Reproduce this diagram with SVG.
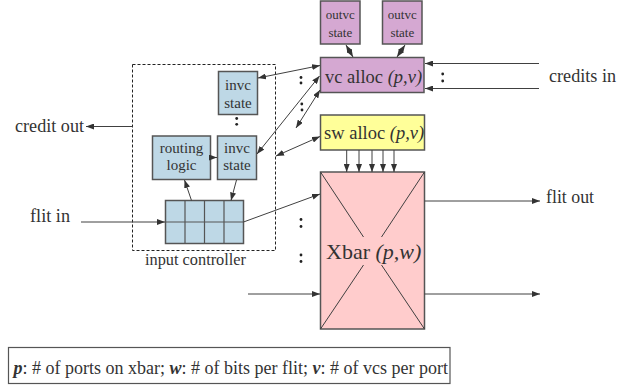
<svg xmlns="http://www.w3.org/2000/svg" width="635" height="390" viewBox="0 0 635 390">
<defs>
<marker id="ah" viewBox="0 0 8 6" refX="8" refY="3" markerWidth="8" markerHeight="6" orient="auto-start-reverse" markerUnits="userSpaceOnUse">
<path d="M0,0 L8,3 L0,6 z" fill="#333"/>
</marker>
<style>
.box{stroke:#555;stroke-width:1.5}
.blue{fill:#bed8e6}
.purple{fill:#d5a8d2}
.yellow{fill:#ffff99}
.pink{fill:#ffcccc}
.t{font-family:"Liberation Serif","Times New Roman",serif;fill:#333}
.m{text-anchor:middle}
.i{font-style:italic}
.bi{font-style:italic;font-weight:bold}
.c{stroke:#404040;stroke-width:1;fill:none}
.a{marker-end:url(#ah)}
.d{marker-start:url(#ah);marker-end:url(#ah)}
.dot{fill:#222}
</style>
</defs>
<rect width="635" height="390" fill="#fff"/>

<g id="input-controller">
<rect x="132.5" y="64.5" width="143" height="186" fill="none" stroke="#222" stroke-width="1" stroke-dasharray="3,2"/>
<text class="t" x="145" y="265" font-size="16" textLength="101" lengthAdjust="spacingAndGlyphs">input controller</text>
</g>

<g id="outvc-state-1">
<rect class="box purple" x="320.5" y="1" width="39.5" height="43"/>
<text class="t m" x="340.3" y="18.5" font-size="13">outvc</text>
<text class="t m" x="340.3" y="37" font-size="13">state</text>
</g>
<g id="outvc-state-2">
<rect class="box purple" x="382.5" y="1" width="39.5" height="43"/>
<text class="t m" x="402.3" y="18.5" font-size="13">outvc</text>
<text class="t m" x="402.3" y="37" font-size="13">state</text>
</g>

<g id="vc-alloc">
<rect class="box purple" x="320.5" y="57.5" width="103.5" height="35"/>
<text class="t" x="325" y="82.5" font-size="18.5">vc alloc <tspan class="i">(p,v)</tspan></text>
</g>

<g id="sw-alloc">
<rect class="box yellow" x="320.5" y="115" width="104" height="35"/>
<text class="t" x="324" y="139" font-size="18.5">sw alloc <tspan class="i">(p,v)</tspan></text>
</g>

<g id="xbar">
<rect class="box pink" x="320.5" y="172" width="104" height="157"/>
<path class="c" d="M320.5,172 L363.5,237 M424.5,172 L381.5,237 M320.5,329 L363.5,265 M424.5,329 L381.5,265"/>
<text class="t" x="326" y="258.5" font-size="22">Xbar <tspan class="i">(p,w)</tspan></text>
</g>

<g id="invc-state-top">
<rect class="box blue" x="218.5" y="71.5" width="39" height="43"/>
<text class="t m" x="238" y="90" font-size="15">invc</text>
<text class="t m" x="238" y="108" font-size="15">state</text>
</g>

<g id="routing-logic">
<rect class="box blue" x="152.5" y="136" width="58" height="43.5"/>
<text class="t m" x="181.5" y="153" font-size="15">routing</text>
<text class="t m" x="181.5" y="170" font-size="15">logic</text>
</g>

<g id="invc-state-bottom">
<rect class="box blue" x="217.5" y="136" width="39" height="43.5"/>
<text class="t m" x="237" y="153" font-size="15">invc</text>
<text class="t m" x="237" y="170" font-size="15">state</text>
</g>

<g id="buffer">
<rect class="box blue" x="165.5" y="200.5" width="78" height="43"/>
<path d="M185,200.5 V243.5 M204.5,200.5 V243.5 M224,200.5 V243.5 M165.5,222 H243.5" stroke="#555" stroke-width="1.2" fill="none"/>
</g>

<g id="labels">
<text class="t" x="549" y="82" font-size="19" textLength="67" lengthAdjust="spacingAndGlyphs">credits in</text>
<text class="t" x="15" y="132" font-size="19" textLength="69" lengthAdjust="spacingAndGlyphs">credit out</text>
<text class="t" x="30" y="222" font-size="19" textLength="40" lengthAdjust="spacingAndGlyphs">flit in</text>
<text class="t" x="546" y="203" font-size="19" textLength="48" lengthAdjust="spacingAndGlyphs">flit out</text>
</g>

<g id="connectors">
<line class="c d" x1="346" y1="45" x2="353" y2="57"/>
<line class="c d" x1="405" y1="45" x2="397" y2="57"/>
<line class="c a" x1="539" y1="63.5" x2="425" y2="63.5"/>
<line class="c a" x1="539" y1="88.5" x2="425" y2="88.5"/>
<line class="c d" x1="258" y1="78" x2="320" y2="65.5"/>
<line class="c d" x1="257" y1="154" x2="319.5" y2="76"/>
<line class="c d" x1="296" y1="128" x2="320" y2="90"/>
<line class="c d" x1="276" y1="156" x2="320" y2="136.5"/>
<line class="c a" x1="132.5" y1="126.5" x2="86" y2="126.5"/>
<line class="c a" x1="81" y1="222" x2="165" y2="222"/>
<line class="c a" x1="210.5" y1="157.5" x2="217" y2="157.5"/>
<line class="c a" x1="191.5" y1="200.5" x2="184.5" y2="180"/>
<line class="c a" x1="236.5" y1="180" x2="231" y2="200.5"/>
<line class="c a" x1="243.5" y1="222" x2="320" y2="194"/>
<line class="c a" x1="346.7" y1="150" x2="346.7" y2="172"/>
<line class="c a" x1="359" y1="150" x2="359" y2="172"/>
<line class="c a" x1="372" y1="150" x2="372" y2="172"/>
<line class="c a" x1="383" y1="150" x2="383" y2="172"/>
<line class="c a" x1="394" y1="150" x2="394" y2="172"/>
<line class="c a" x1="424.5" y1="201" x2="540" y2="201"/>
<line class="c a" x1="248" y1="294" x2="320" y2="294"/>
<line class="c a" x1="424.5" y1="294" x2="540" y2="294"/>
</g>

<g id="ellipses">
<circle class="dot" cx="442.7" cy="74" r="1.4"/>
<circle class="dot" cx="442.7" cy="81" r="1.4"/>
<circle class="dot" cx="301" cy="77.5" r="1.4"/>
<circle class="dot" cx="301" cy="83" r="1.4"/>
<circle class="dot" cx="301.8" cy="104" r="1.4"/>
<circle class="dot" cx="302" cy="110" r="1.4"/>
<circle class="dot" cx="236.7" cy="118.5" r="1.4"/>
<circle class="dot" cx="236.7" cy="124.3" r="1.4"/>
<circle class="dot" cx="301" cy="219.5" r="1.4"/>
<circle class="dot" cx="301" cy="226.5" r="1.4"/>
<circle class="dot" cx="301" cy="255" r="1.4"/>
<circle class="dot" cx="301" cy="261.5" r="1.4"/>
</g>

<g id="legend">
<rect x="8.5" y="347.5" width="441.5" height="36" fill="#fff" stroke="#555" stroke-width="1.2"/>
<text class="t" x="13.5" y="373.5" font-size="18"><tspan class="bi">p</tspan>: # of ports on xbar; <tspan class="bi">w</tspan>: # of bits per flit; <tspan class="bi">v</tspan>: # of vcs per port</text>
</g>
</svg>
